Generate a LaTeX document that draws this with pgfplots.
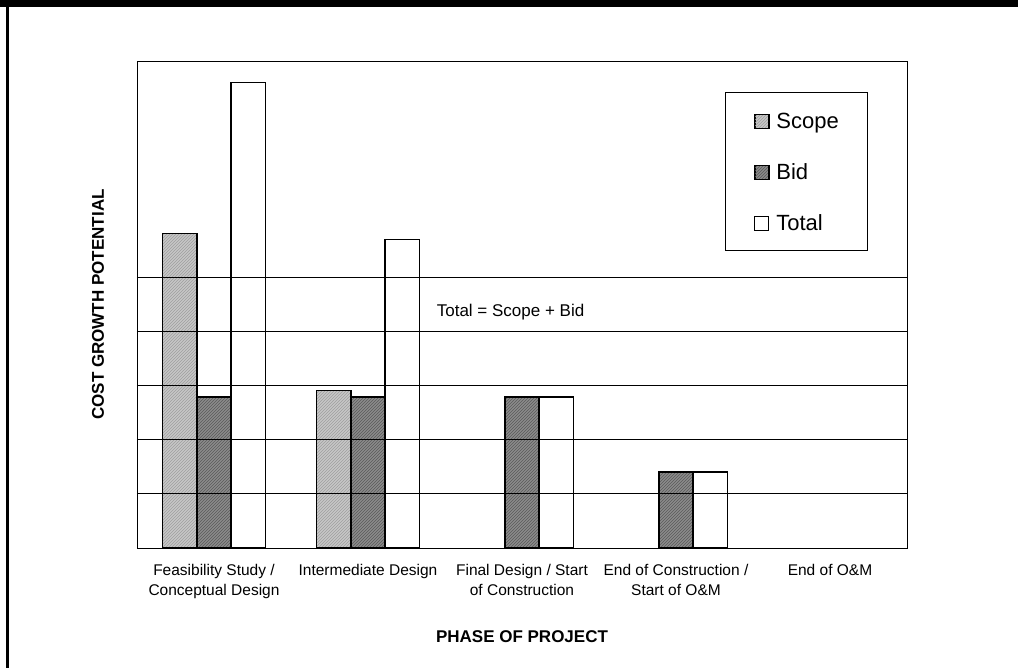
\documentclass[border=0pt]{standalone}
\usepackage{pgfplots}
\pgfplotsset{compat=1.18}
\usepackage{fontspec}
\setmainfont{Liberation Sans}
\usetikzlibrary{patterns}

\pgfplotsset{
  scopebar/.style={draw=black, line width=1.6pt, preaction={fill=black!22},
    pattern=north east lines, pattern color=black!38},
  bidbar/.style={draw=black, line width=1.6pt, preaction={fill=black!45},
    pattern=north east lines, pattern color=black!65},
  totalbar/.style={draw=black, line width=1.6pt, fill=white},
}

\begin{document}
\begin{tikzpicture}
\useasboundingbox (-137pt,-120pt) rectangle (881pt,548pt);
% frame of the page
\fill[black] (-137pt,541pt) rectangle (881pt,548pt);
\fill[black] (-131pt,-120pt) rectangle (-128pt,548pt);
\begin{axis}[
  scale only axis,
  width=770pt, height=487pt,
  xmin=-0.5, xmax=4.5,
  ymin=0, ymax=9,
  ybar=0pt,
  bar width=0.2225,
  axis on top,
  axis line style={line width=0.8pt},
  xtick={0,1,2,3,4},
  xticklabels={Feasibility Study /\\Conceptual Design, Intermediate Design,
    Final Design / Start\\of Construction, End of Construction /\\Start of O\&M, End of O\&M},
  x tick label style={align=center, font=\fontsize{15.5}{19.5}\selectfont, yshift=-13pt},
  ytick={1,2,3,4,5},
  yticklabels={},
  ymajorgrids,
  grid style={black, line width=0.8pt},
  major tick length=0pt,
  xlabel={\bfseries PHASE OF PROJECT},
  xlabel style={at={(axis description cs:0.5,-0.182)}, anchor=center, font=\fontsize{17}{20}\selectfont},
  ylabel={\bfseries COST GROWTH POTENTIAL},
  ylabel style={at={(axis description cs:-0.0506,0.5)}, anchor=center, rotate=0, font=\fontsize{17}{20}\selectfont},
  legend style={at={(axis description cs:0.7636,0.936)}, anchor=north west,
    draw=black, line width=0.8pt, fill=white,
    font=\fontsize{22}{26}\selectfont,
    inner xsep=29pt, inner ysep=20pt, row sep=34.3pt,
    nodes={inner sep=0pt, text height=16pt, text depth=0pt},
    /tikz/every odd column/.append style={column sep=7pt}},
  legend cell align=left,
  legend image code/.code={\draw[#1, line width=1pt] (0pt,-8pt) rectangle (14pt,6pt);},
]
\addplot[scopebar] coordinates {(0,5.81) (1,2.91)};
\addplot[bidbar] coordinates {(0,2.79) (1,2.79) (2,2.79) (3,1.40)};
\addplot[totalbar] coordinates {(0,8.60) (1,5.70) (2,2.79) (3,1.40)};
\legend{Scope, Bid, Total}
\node[anchor=base west, font=\fontsize{17}{20}\selectfont] at (axis cs:1.424,4.275) {Total = Scope + Bid};
\end{axis}
\end{tikzpicture}
\end{document}
